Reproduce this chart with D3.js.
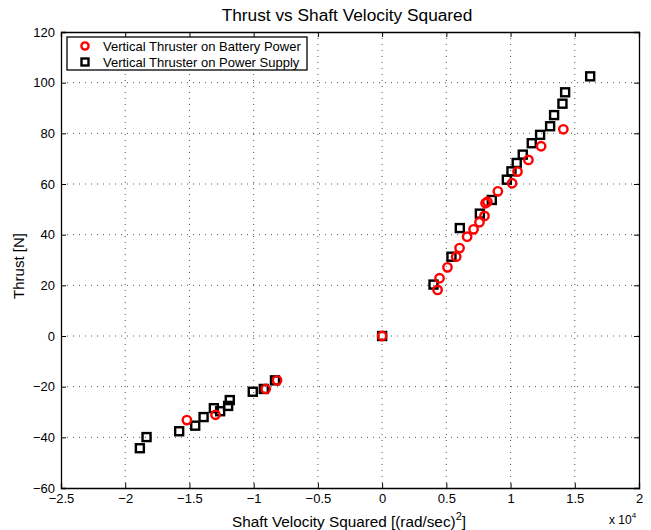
<!DOCTYPE html>
<html>
<head>
<meta charset="utf-8">
<script src="https://cdn.jsdelivr.net/npm/d3@7"></script>
<style>
  body { margin: 0; background: #fff; }
  text { font-family: "Liberation Sans", Arial, sans-serif; fill: #000; }
</style>
</head>
<body>
<div id="chart"></div>
<script>
(function () {

  /***** Data (shaft velocity squared in 1e4 (rad/s)^2, thrust in N) *****/
  var batteryX = [1.411, 1.238, 1.139, 1.054, 1.012, 0.901, 0.820, 0.805, 0.797, 0.758, 0.712,
                  0.662, 0.603, 0.577, 0.509, 0.447, 0.432, 0, -0.818, -0.906, -1.297, -1.520]
  var batteryY = [81.6, 74.9, 69.5, 64.9, 60.3, 57.1, 53.0, 52.4, 47.4, 44.9, 42.1,
                  39.2, 34.7, 31.3, 27.1, 22.8, 18.2, 0, -17.5, -20.9, -31.1, -33.2]

  var supplyX = [1.62, 1.425, 1.404, 1.339, 1.308, 1.230, 1.165, 1.095, 1.048, 1.007, 0.971,
                 0.854, 0.761, 0.605, 0.540, 0.400, 0, -0.834, -0.921, -1.007, -1.186, -1.199,
                 -1.261, -1.310, -1.390, -1.455, -1.580, -1.834, -1.886]
  var supplyY = [102.5, 96.2, 91.7, 87.2, 82.8, 79.4, 76.1, 71.6, 68.3, 65.0, 61.7,
                 53.7, 48.3, 42.6, 31.3, 20.3, 0, -17.5, -20.9, -22.0, -25.3, -27.6,
                 -29.7, -28.5, -32.0, -35.4, -37.6, -39.9, -44.3]

  var xTicks = [-2.5, -2, -1.5, -1, -0.5, 0, 0.5, 1, 1.5, 2]
  var yTicks = [-60, -40, -20, 0, 20, 40, 60, 80, 100, 120]

  var seriesNames = ["Vertical Thruster on Battery Power", "Vertical Thruster on Power Supply"]

  /***** Configuration *****/
  var margin = { top: 32, right: 12, bottom: 42, left: 61 }
  var width = 651 - margin.left - margin.right
  var height = 530 - margin.top - margin.bottom

  var svg = d3.select("#chart")
              .append("svg")
              .attr("width", 651)
              .attr("height", 530)

  var g = svg.append("g")
      .attr("transform", "translate(" + margin.left + "," + margin.top + ")")

  var x = d3.scaleLinear().domain([-2.5, 2]).range([0, width])
  var y = d3.scaleLinear().domain([-60, 120]).range([height, 0])

  // grid
  g.append("g").selectAll("line").data(xTicks.slice(1, -1)).join("line")
      .attr("x1", d => x(d)).attr("x2", d => x(d))
      .attr("y1", 0).attr("y2", height)
      .attr("stroke", "#555").attr("stroke-width", 1)
      .attr("stroke-dasharray", "1,5")
  g.append("g").selectAll("line").data(yTicks.slice(1, -1)).join("line")
      .attr("y1", d => y(d)).attr("y2", d => y(d))
      .attr("x1", 0).attr("x2", width)
      .attr("stroke", "#555").attr("stroke-width", 1)
      .attr("stroke-dasharray", "1,5")

  // axes
  var fmtX = d => d3.format("")(d).replace("-", "\u2212")
  var xAxis = g.append("g")
      .attr("transform", "translate(0," + height + ")")
      .call(d3.axisBottom(x).tickValues(xTicks).tickSize(-5).tickPadding(6).tickFormat(fmtX))
  var xTop = g.append("g")
      .call(d3.axisTop(x).tickValues(xTicks).tickSize(-5).tickFormat(""))
  var yAxis = g.append("g")
      .call(d3.axisLeft(y).tickValues(yTicks).tickSize(-5).tickPadding(6).tickFormat(d3.format("")))
  var yRight = g.append("g")
      .attr("transform", "translate(" + width + ",0)")
      .call(d3.axisRight(y).tickValues(yTicks).tickSize(-5).tickFormat(""))

  ;[xAxis, xTop, yAxis, yRight].forEach(function (a) {
    a.select(".domain").attr("stroke", "#000").attr("stroke-width", 1.3)
    a.selectAll(".tick line").attr("stroke", "#000")
    a.selectAll("text").style("font-size", "13px").attr("fill", "#000")
  })

  // points
  var battery = batteryX.map((v, i) => [v, batteryY[i]])
  var supply = supplyX.map((v, i) => [v, supplyY[i]])

  g.append("g").selectAll("rect").data(supply).join("rect")
      .attr("x", d => x(d[0]) - 4).attr("y", d => y(d[1]) - 4)
      .attr("width", 8).attr("height", 8)
      .attr("fill", "none").attr("stroke", "#000").attr("stroke-width", 2.4)

  g.append("g").selectAll("circle").data(battery).join("circle")
      .attr("cx", d => x(d[0])).attr("cy", d => y(d[1]))
      .attr("r", 4.2)
      .attr("fill", "none").attr("stroke", "#f00").attr("stroke-width", 2.4)

  // legend
  var legend = svg.append("g").attr("transform", "translate(67,37)")
  legend.append("rect")
      .attr("width", 240).attr("height", 33)
      .attr("fill", "#fff").attr("stroke", "#000").attr("stroke-width", 1.3)
  legend.append("circle").attr("cx", 18).attr("cy", 9).attr("r", 3.6)
      .attr("fill", "none").attr("stroke", "#f00").attr("stroke-width", 2.4)
  legend.append("rect").attr("x", 14.5).attr("y", 21.5).attr("width", 7).attr("height", 7)
      .attr("fill", "none").attr("stroke", "#000").attr("stroke-width", 2.4)
  legend.selectAll("text.lab").data(seriesNames).join("text")
      .attr("class", "lab")
      .attr("x", 36).attr("y", (d, i) => 13.5 + i * 16)
      .style("font-size", "13px")
      .text(d => d)

  // titles
  svg.append("text")
      .attr("x", 347).attr("y", 21)
      .attr("text-anchor", "middle")
      .style("font-size", "17.3px")
      .text("Thrust vs Shaft Velocity Squared")

  var xl = svg.append("text")
      .attr("x", 349).attr("y", 527)
      .attr("text-anchor", "middle")
      .style("font-size", "15.3px")
  xl.append("tspan").text("Shaft Velocity Squared [(rad/sec)")
  xl.append("tspan").attr("dy", -7).style("font-size", "11px").text("2")
  xl.append("tspan").attr("dy", 7).text("]")

  svg.append("text")
      .attr("transform", "translate(24,266) rotate(-90)")
      .attr("text-anchor", "middle")
      .style("font-size", "15px")
      .text("Thrust [N]")

  var ex = svg.append("text")
      .attr("x", 609).attr("y", 524)
      .style("font-size", "12px")
  ex.append("tspan").text("x 10")
  ex.append("tspan").attr("dy", -6).style("font-size", "8px").text("4")

})()
</script>
</body>
</html>
